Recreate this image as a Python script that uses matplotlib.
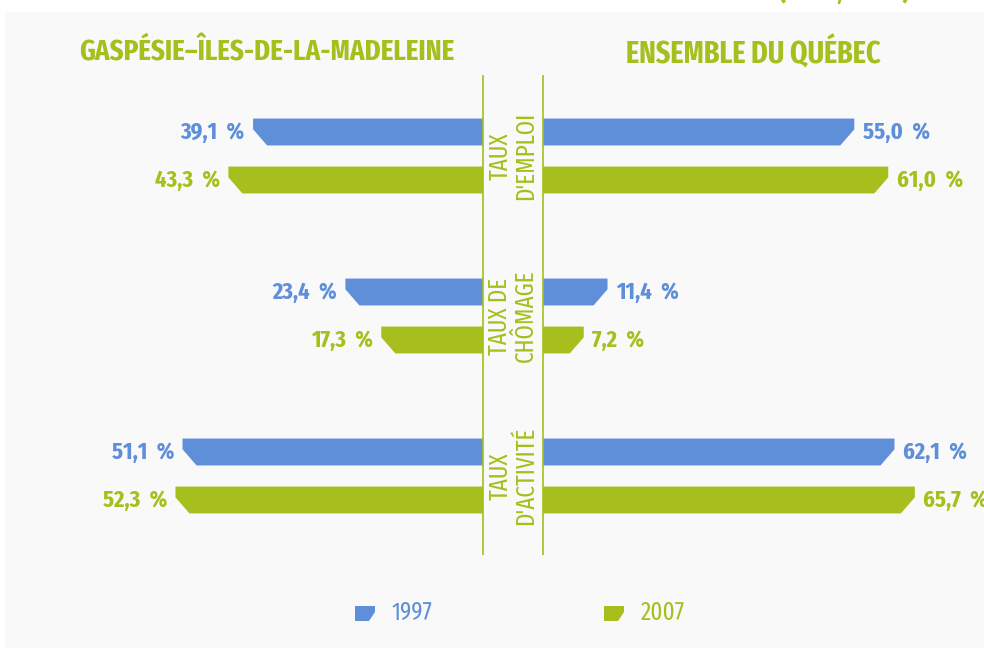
import matplotlib
matplotlib.use("Agg")
import matplotlib.pyplot as plt
from matplotlib.patches import Polygon, Rectangle
from matplotlib import transforms
import numpy as np

# ---- data ----
categories = ["TAUX\nD'EMPLOI", "TAUX DE\nCHÔMAGE", "TAUX\nD'ACTIVITÉ"]
years = ["1997", "2007"]
gaspesie_1997 = [39.1, 23.4, 51.1]
gaspesie_2007 = [43.3, 17.3, 52.3]
quebec_1997 = [55.0, 11.4, 62.1]
quebec_2007 = [61.0, 7.2, 65.7]
left_title = "GASPÉSIE–ÎLES-DE-LA-MADELEINE"
right_title = "ENSEMBLE DU QUÉBEC"

BLUE = "#5f8fd8"
GREEN = "#a6bf1c"
BG = "#f9f9f9"
FONT = ["Fira Sans Extra Condensed", "Barlow Condensed", "DejaVu Sans"]

W, H = 984, 648
fig = plt.figure(figsize=(W / 100, H / 100), dpi=100, facecolor="white")
fig.patches.append(Rectangle((5 / W, 0), 1 - 5 / W, 1 - 12 / H, transform=fig.transFigure,
                             facecolor=BG, edgecolor="none", zorder=-10))

axL = fig.add_axes([0, 0, 483 / W, 1])
axR = fig.add_axes([543 / W, 0, 441 / W, 1])
axL.set_xlim(483 / 5.88, 0)
axR.set_xlim(0, 441 / 5.66)
for ax in (axL, axR):
    ax.set_ylim(3.075, -0.975)
    ax.axis("off")
    ax.patch.set_alpha(0)

ypos = np.arange(len(categories))
off = 0.15
hh = 0.084


def draw_bars(ax, vals, yoff, color, side):
    x0, x1 = ax.get_xlim()
    px_per_unit = ax.bbox.width / abs(x1 - x0)
    ch = 14 / px_per_unit
    for y, v in zip(ypos + yoff, vals):
        top, bot = y - hh, y + hh
        pts = [(0, top), (v, top), (v, top + 0.8 * hh), (v - ch, bot), (0, bot)]
        ax.add_patch(Polygon(pts, closed=True, facecolor=color, edgecolor="none"))
        lab = f"{v:.1f}".replace(".", ",") + "\u2009 %"
        if side == "left":
            ax.annotate(lab, (v, y), xytext=(-6, 0), textcoords="offset points",
                        ha="right", va="center", color=color, fontsize=17.5,
                        fontweight="bold", family=FONT)
        else:
            ax.annotate(lab, (v, y), xytext=(6, 0), textcoords="offset points",
                        ha="left", va="center", color=color, fontsize=17.5,
                        fontweight="bold", family=FONT, annotation_clip=False)


draw_bars(axL, gaspesie_1997, -off, BLUE, "left")
draw_bars(axL, gaspesie_2007, off, GREEN, "left")
draw_bars(axR, quebec_1997, -off, BLUE, "right")
draw_bars(axR, quebec_2007, off, GREEN, "right")

# vertical separators
for ax in (axL, axR):
    ax.plot([0, 0], [-0.506, 2.494], color=GREEN, lw=1.2, solid_capstyle="butt",
            clip_on=False)

# category labels in the middle column
tr = transforms.blended_transform_factory(fig.transFigure, axL.transData)
for y, c in zip(ypos, categories):
    fig.text(513 / W, y, c, transform=tr, rotation=90, ha="center", va="center",
             multialignment="center", color=GREEN, fontsize=18, family=FONT,
             linespacing=1.05)

# headers
fig.text(267 / W, 1 - 53 / H, left_title, ha="center", va="center", color=GREEN,
         fontsize=21, fontweight="bold", family=FONT)
fig.text(753 / W, 1 - 53 / H, right_title, ha="center", va="center", color=GREEN,
         fontsize=22, fontweight="bold", family=FONT)

# clipped text at top right
fig.text(910 / W, 1 + 1 / H, "(1997, 2007)", ha="right", va="baseline", color=GREEN,
         fontsize=21, fontweight="bold", family=FONT)

# legend
for (x0, col, yr) in [(355, BLUE, years[0]), (604, GREEN, years[1])]:
    w, h = 20, 15
    ytop = 606
    pts = [(x0, ytop), (x0 + w, ytop), (x0 + w, ytop + 6), (x0 + w - 6, ytop + h), (x0, ytop + h)]
    pts = [(px / W, 1 - py / H) for px, py in pts]
    fig.patches.append(Polygon(pts, closed=True, transform=fig.transFigure,
                               facecolor=col, edgecolor="none"))
    fig.text((x0 + 37) / W, 1 - 613 / H, yr, ha="left", va="center", color=col,
             fontsize=18, family=FONT)

fig.savefig("out.png", dpi=100, facecolor="white")
